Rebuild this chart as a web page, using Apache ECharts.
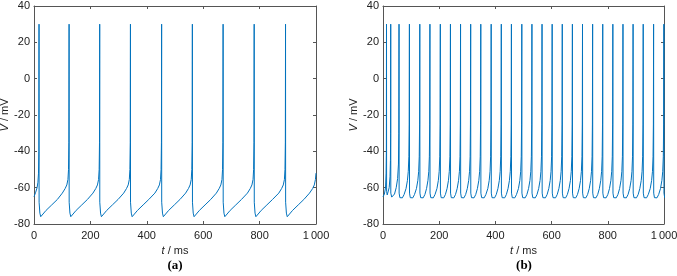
<!DOCTYPE html>
<html lang="en">
<head>
<meta charset="UTF-8">
<script src="https://cdn.jsdelivr.net/npm/echarts@6/dist/echarts.min.js"></script>
<style>
    html, body { margin: 0; padding: 0; background: #fff; }
    #chart { width: 677px; height: 276px; }
</style>
</head>
<body>
<div id="chart"></div>
<script>
    // ---- panel (a): spike times in ms
    var spikesA = [17.8, 124.4, 233, 342, 452.6, 561.6, 670.6, 780.8, 892];
    // trace before the first spike
    var startA = [[0, -65], [6, -62.5], [11, -60], [14, -57], [16, -52], [17.2, -40]];
    // after each spike: [ms after spike, mV]
    var fallA = [[0.3, -68], [3, -74], [6, -76], [10, -75.3], [25, -72.5], [45, -69.5], [65, -66.5]];
    // before each spike: [ms before spike, mV]
    var riseA = [[-24, -63], [-14, -60.5], [-8, -58.5], [-4, -55.5], [-2, -50], [-0.7, -35]];
    var tailA = [[977, -63], [988, -60.5], [994, -58.5], [998, -55.5], [1000, -52]];

    // ---- panel (b)
    var spikesB = [12.5, 27.5, 57, 94, 131, 167, 204, 240, 276, 312, 348, 385, 421, 457,
        494, 530, 566, 602, 638, 674, 710, 746, 782, 818, 854, 890, 926, 963, 999.5];
    // first three (irregular) intervals
    var startB = [[0, -65], [5, -63.5], [9, -60], [11, -52], [12, -40]];
    var gapB1 = [[12.8, -62], [15, -64], [18, -63.5], [22, -60], [25, -54], [26.5, -45], [27.1, -30]];
    var gapB2 = [[27.8, -63], [31, -65.2], [35, -65.3], [41, -63.5], [47, -60], [52, -55], [55, -47], [56.3, -30]];
    var fallB = [[0.4, -63], [3, -65.5], [7, -66.2], [12, -65.6], [18, -63.8]];
    var riseB = [[-12, -60.5], [-7, -56], [-4, -51], [-2, -43], [-0.8, -25]];
    var tailB = [];

    var peak = 30;
    var xTicks = ['0', '200', '400', '600', '800', '1\u2009000'];

    function buildTrace(spikes, lead, fall, rise, tail) {
        var pts = [];
        spikes.forEach(function (s, i) {
            if (i < lead.length) {
                pts = pts.concat(lead[i]);
            } else {
                rise.forEach(function (p) { pts.push([s + p[0], p[1]]); });
            }
            pts.push([s, peak]);
            if (i + 1 >= lead.length) {
                fall.forEach(function (p) { pts.push([s + p[0], p[1]]); });
            }
        });
        return pts.concat(tail);
    }

    var traceA = buildTrace(spikesA, [startA], fallA, riseA, tailA);
    var traceB = buildTrace(spikesB, [startB, gapB1, gapB2], fallB, riseB, tailB);

    var axisColor = '#555';
    var font = '"Liberation Sans", Arial, sans-serif';

    function xAxis(grid, top) {
        return {
            type: 'value', gridIndex: grid, min: 0, max: 1000, interval: 200,
            position: top ? 'top' : 'bottom',
            axisLine: { show: true, onZero: false, lineStyle: { color: axisColor, width: 1 } },
            axisTick: { show: true, inside: true, length: 3, lineStyle: { color: axisColor } },
            axisLabel: {
                show: !top, margin: 6, fontSize: 11, fontFamily: font, color: '#222',
                formatter: function (v) { return xTicks[Math.round(v / 200)]; }
            },
            splitLine: { show: false },
            name: top ? '' : '{i|t} / ms',
            nameLocation: 'middle', nameGap: 21,
            nameTextStyle: {
                fontSize: 11, fontFamily: font, color: '#222',
                rich: { i: { fontStyle: 'italic', fontSize: 11, fontFamily: font, color: '#222' } }
            }
        };
    }

    function yAxis(grid, right) {
        return {
            type: 'value', gridIndex: grid, min: -80, max: 40, interval: 20,
            position: right ? 'right' : 'left',
            axisLine: { show: true, onZero: false, lineStyle: { color: axisColor, width: 1 } },
            axisTick: { show: true, inside: true, length: 3, lineStyle: { color: axisColor } },
            axisLabel: { show: !right, margin: 4, fontSize: 11, fontFamily: font, color: '#222' },
            splitLine: { show: false },
            name: right ? '' : '{i|V} / mV',
            nameLocation: 'middle', nameGap: 21,
            nameTextStyle: {
                fontSize: 11, fontFamily: font, color: '#222',
                rich: { i: { fontStyle: 'italic', fontSize: 11, fontFamily: font, color: '#222' } }
            }
        };
    }

    var chart = echarts.init(document.getElementById('chart'), null, { renderer: 'canvas' });

    var option = {
        animation: false,
        grid: [
            { left: 34, top: 6, width: 282, height: 218, outerBoundsMode: 'none' },
            { left: 383, top: 6, width: 281, height: 218, outerBoundsMode: 'none' }
        ],
        xAxis: [xAxis(0, false), xAxis(0, true), xAxis(1, false), xAxis(1, true)],
        yAxis: [yAxis(0, false), yAxis(0, true), yAxis(1, false), yAxis(1, true)],
        series: [
            {
                type: 'line', xAxisIndex: 0, yAxisIndex: 0, data: traceA,
                showSymbol: false, smooth: false,
                lineStyle: { color: '#0072BD', width: 1 }
            },
            {
                type: 'line', xAxisIndex: 2, yAxisIndex: 2, data: traceB,
                showSymbol: false, smooth: false,
                lineStyle: { color: '#0072BD', width: 1 }
            }
        ],
        graphic: [
            {
                type: 'text', x: 175, y: 266,
                style: { text: '(a)', align: 'center', verticalAlign: 'middle',
                    font: 'bold 13px "Liberation Serif", "Times New Roman", serif', fill: '#000' }
            },
            {
                type: 'text', x: 524, y: 266,
                style: { text: '(b)', align: 'center', verticalAlign: 'middle',
                    font: 'bold 13px "Liberation Serif", "Times New Roman", serif', fill: '#000' }
            }
        ]
    };

    chart.setOption(option);
</script>
</body>
</html>
